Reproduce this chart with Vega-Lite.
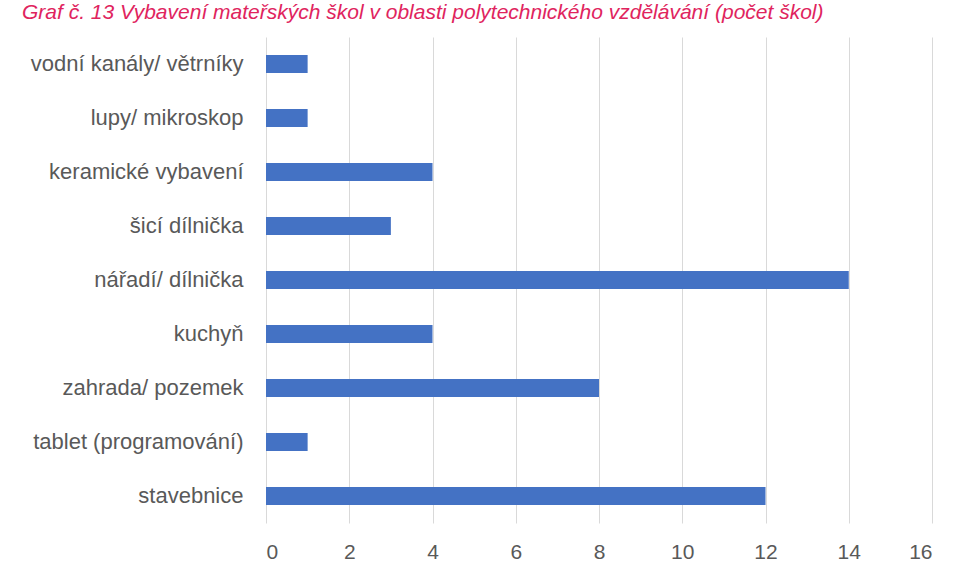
{
  "$schema": "https://vega.github.io/schema/vega-lite/v6.json",
  "width": 666,
  "height": 486,
  "autosize": {"type": "none"},
  "padding": {"left": 266, "top": 37, "right": 28, "bottom": 53},
  "background": "white",
  "title": {
    "text": "Graf č. 13 Vybavení mateřských škol v oblasti polytechnického vzdělávání (počet škol)",
    "anchor": "start",
    "frame": "group",
    "dx": -244,
    "dy": 19,
    "offset": 16,
    "baseline": "alphabetic",
    "font": "Liberation Sans",
    "fontStyle": "italic",
    "fontWeight": "normal",
    "fontSize": 21,
    "color": "#E0245E"
  },
  "data": {
    "values": [
      {"kategorie": "vodní kanály/ větrníky", "pocet": 1},
      {"kategorie": "lupy/ mikroskop", "pocet": 1},
      {"kategorie": "keramické vybavení ", "pocet": 4},
      {"kategorie": "šicí dílnička", "pocet": 3},
      {"kategorie": "nářadí/ dílnička", "pocet": 14},
      {"kategorie": "kuchyň", "pocet": 4},
      {"kategorie": "zahrada/ pozemek", "pocet": 8},
      {"kategorie": "tablet (programování)", "pocet": 1},
      {"kategorie": "stavebnice", "pocet": 12}
    ]
  },
  "mark": {"type": "bar", "color": "#4472C4"},
  "encoding": {
    "y": {
      "field": "kategorie",
      "type": "nominal",
      "sort": null,
      "scale": {"paddingInner": 0.667, "paddingOuter": 0.333},
      "axis": {
        "title": null,
        "domain": false,
        "ticks": false,
        "labelPadding": 23,
        "labelFont": "Liberation Sans",
        "labelFontSize": 22,
        "labelColor": "#595959",
        "labelLimit": 400
      }
    },
    "x": {
      "field": "pocet",
      "type": "quantitative",
      "scale": {"domain": [0, 16], "nice": false},
      "axis": {
        "title": null,
        "values": [0, 2, 4, 6, 8, 10, 12, 14, 16],
        "domain": false,
        "ticks": false,
        "grid": true,
        "gridColor": "#D9D9D9",
        "gridWidth": 1,
        "labelPadding": 18,
        "labelFont": "Liberation Sans",
        "labelFontSize": 21,
        "labelColor": "#595959"
      }
    }
  },
  "config": {"view": {"stroke": null}}
}
